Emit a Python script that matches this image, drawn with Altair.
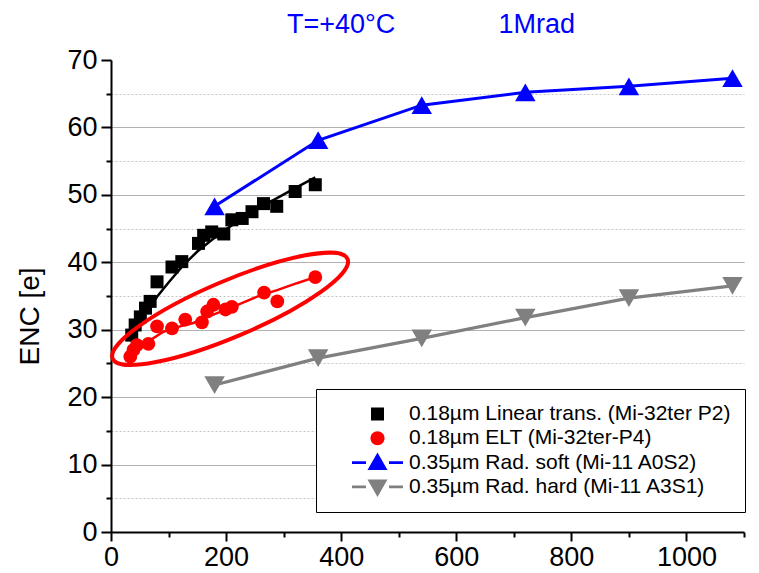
import altair as alt
import pandas as pd

FONT = "Liberation Sans"

# ---- data ----
lin_x = [36, 42, 51, 60, 68, 80, 106, 123, 152, 161, 175, 196, 210, 228, 245, 265, 288, 320, 355]
lin_y = [29.2, 30.7, 31.9, 33.2, 34.2, 37.1, 39.3, 40.1, 42.8, 44.0, 44.5, 44.2, 46.3, 46.5, 47.5, 48.7, 48.3, 50.5, 51.5]
lin_fit_x = [33, 45, 60, 80, 100, 125, 150, 175, 200, 230, 260, 290, 320, 355]
lin_fit_y = [28.3, 30.5, 32.4, 34.9, 37.0, 39.5, 41.6, 43.3, 44.9, 46.6, 48.2, 49.6, 51.0, 52.6]

elt_x = [33.5, 39, 45, 65, 80, 106, 129, 158, 167, 178, 199, 210, 266, 289, 355]
elt_y = [26.0, 27.0, 27.7, 27.9, 30.5, 30.2, 31.5, 31.1, 32.7, 33.7, 33.0, 33.4, 35.5, 34.2, 37.8]
elt_fit_x = [30, 45, 60, 91, 120, 143, 180, 215, 254, 290, 323, 355]
elt_fit_y = [26.0, 27.2, 28.0, 29.7, 30.5, 31.0, 32.3, 33.5, 34.9, 35.9, 36.9, 37.8]

rad_x = [180, 360, 540, 720, 900, 1080]
soft_y = [48.3, 58.1, 63.3, 65.2, 66.1, 67.3]
hard_y = [21.8, 25.8, 28.7, 31.8, 34.7, 36.5]

series = [
    "0.18µm Linear trans. (Mi-32ter P2)",
    "0.18µm ELT (Mi-32ter-P4)",
    "0.35µm Rad. soft (Mi-11 A0S2)",
    "0.35µm Rad. hard (Mi-11 A3S1)",
]
colors = ["#000000", "#FF0000", "#0000FF", "#808080"]
legend_shapes = [
    "M-0.65,-0.65H0.65V0.65H-0.65Z",
    "M-0.7,0A0.7,0.7,0,1,1,0.7,0A0.7,0.7,0,1,1,-0.7,0Z",
    "M-2.55,-0.13H-1.15V0.13H-2.55ZM1.15,-0.13H2.55V0.13H1.15ZM0,-1L1,0.75L-1,0.75Z",
    "M-2.55,-0.13H-1.15V0.13H-2.55ZM1.15,-0.13H2.55V0.13H1.15ZM0,1L1,-0.75L-1,-0.75Z",
]
ellipse_path = "M-1,0A1,0.22,0,1,1,1,0A1,0.22,0,1,1,-1,0Z"

lin_df = pd.DataFrame({"x": lin_x, "y": lin_y})
lin_fit_df = pd.DataFrame({"x": lin_fit_x, "y": lin_fit_y})
elt_df = pd.DataFrame({"x": elt_x, "y": elt_y})
elt_fit_df = pd.DataFrame({"x": elt_fit_x, "y": elt_fit_y})
soft_df = pd.DataFrame({"x": rad_x, "y": soft_y})
hard_df = pd.DataFrame({"x": rad_x, "y": hard_y})
legend_df = pd.DataFrame({"series": series})

xscale = alt.Scale(domain=[0, 1100], nice=False, zero=False)
yscale = alt.Scale(domain=[0, 70], nice=False, zero=False)

x_axis = alt.Axis(
    title=None,
    values=list(range(0, 1101, 100)),
    format="d",
    labelExpr="datum.value % 200 === 0 ? datum.label : ''",
    labelFont=FONT, labelFontSize=27, labelColor="black", labelPadding=3,
    labelFlush=False, labelOverlap=False,
    tickSize={"condition": {"test": "datum.value % 200 === 0", "value": 9}, "value": 5},
    tickWidth=2, tickColor="black",
    domainWidth=2, domainColor="black",
    grid=False,
)
y_axis = alt.Axis(
    title="ENC [e]",
    values=list(range(0, 71, 5)),
    format="d",
    labelExpr="datum.value % 10 === 0 ? datum.label : ''",
    labelFont=FONT, labelFontSize=27, labelColor="black", labelPadding=4,
    labelOverlap=False,
    tickSize={"condition": {"test": "datum.value % 10 === 0", "value": 10}, "value": 5},
    tickWidth=2, tickColor="black",
    domainWidth=2, domainColor="black",
    grid=True, gridWidth=1,
    gridColor={"condition": {"test": "datum.value % 10 === 0", "value": "#999999"}, "value": "#c4c4c4"},
    gridDash={"condition": {"test": "datum.value % 10 === 0", "value": [1, 0]}, "value": [2, 2]},
    gridOpacity={"condition": {"test": "datum.value === 0 || datum.value === 70", "value": 0}, "value": 1},
    titleFont=FONT, titleFontSize=28, titleFontWeight="normal", titleColor="black",
    titleAngle=270, titleX=-81, titleY=256, titleAlign="center", titleBaseline="middle",
)

X = alt.X("x:Q", scale=xscale, axis=x_axis)
Y = alt.Y("y:Q", scale=yscale, axis=y_axis)


def pts(df, shape, color, size):
    return alt.Chart(df).mark_point(shape=shape, filled=True, color=color, size=size, opacity=1).encode(x=X, y=Y)


def line(df, color, width):
    return alt.Chart(df).mark_line(color=color, strokeWidth=width).encode(x=X, y=Y)


lin_fit = line(lin_fit_df, "#000000", 2.5)
elt_fit = line(elt_fit_df, "#FF0000", 2.5)
soft_line = line(soft_df, "#0000FF", 3)
hard_line = line(hard_df, "#808080", 3.3)

lin_pts = pts(lin_df, "square", "#000000", 169)
elt_pts = pts(elt_df, "circle", "#FF0000", 190)
soft_pts = pts(soft_df, "triangle-up", "#0000FF", 420)
hard_pts = pts(hard_df, "triangle-down", "#808080", 420)

ellipse = alt.Chart(pd.DataFrame({"a": [0]})).mark_point(
    shape=ellipse_path, filled=False, color="#FF0000", strokeWidth=4, size=65100, angle=337, opacity=1
).encode(
    x=alt.XDatum(207, scale=xscale, axis=x_axis),
    y=alt.YDatum(33.1, scale=yscale, axis=y_axis),
)

titles_df = pd.DataFrame({"t": ["T=+40°C", "1Mrad"], "x": [400, 740], "y": [75.2, 75.2]})
titles = alt.Chart(titles_df).mark_text(
    font=FONT, fontSize=27, color="#0000FF", baseline="middle", align="center"
).encode(x=X, y=Y, text="t:N")

legend = alt.Legend(
    orient="none", legendX=205, legendY=329, title=None, padding=14,
    fillColor="white", strokeColor="black",
    labelFont=FONT, labelFontSize=21, labelColor="black", labelLimit=500,
    symbolSize=400, symbolStrokeWidth=0, symbolOffset=37, labelOffset=21,
    clipHeight=22, rowPadding=2.3,
)
legend_layer = alt.Chart(legend_df).mark_point(filled=True, opacity=1, size=400).encode(
    color=alt.Color("series:N", scale=alt.Scale(domain=series, range=colors), legend=legend),
    shape=alt.Shape("series:N", scale=alt.Scale(domain=series, range=legend_shapes), legend=legend),
).transform_filter("false")

chart = alt.layer(
    lin_fit, elt_fit, soft_line, hard_line,
    lin_pts, elt_pts, soft_pts, hard_pts,
    ellipse, titles, legend_layer,
).properties(
    width=633, height=472,
    autosize=alt.AutoSizeParams(type="none"),
    padding={"left": 111, "top": 60, "right": 15, "bottom": 41},
    background="white",
).configure_view(stroke=None)

chart.save("out.html", embed_options={"renderer": "svg", "actions": False})
